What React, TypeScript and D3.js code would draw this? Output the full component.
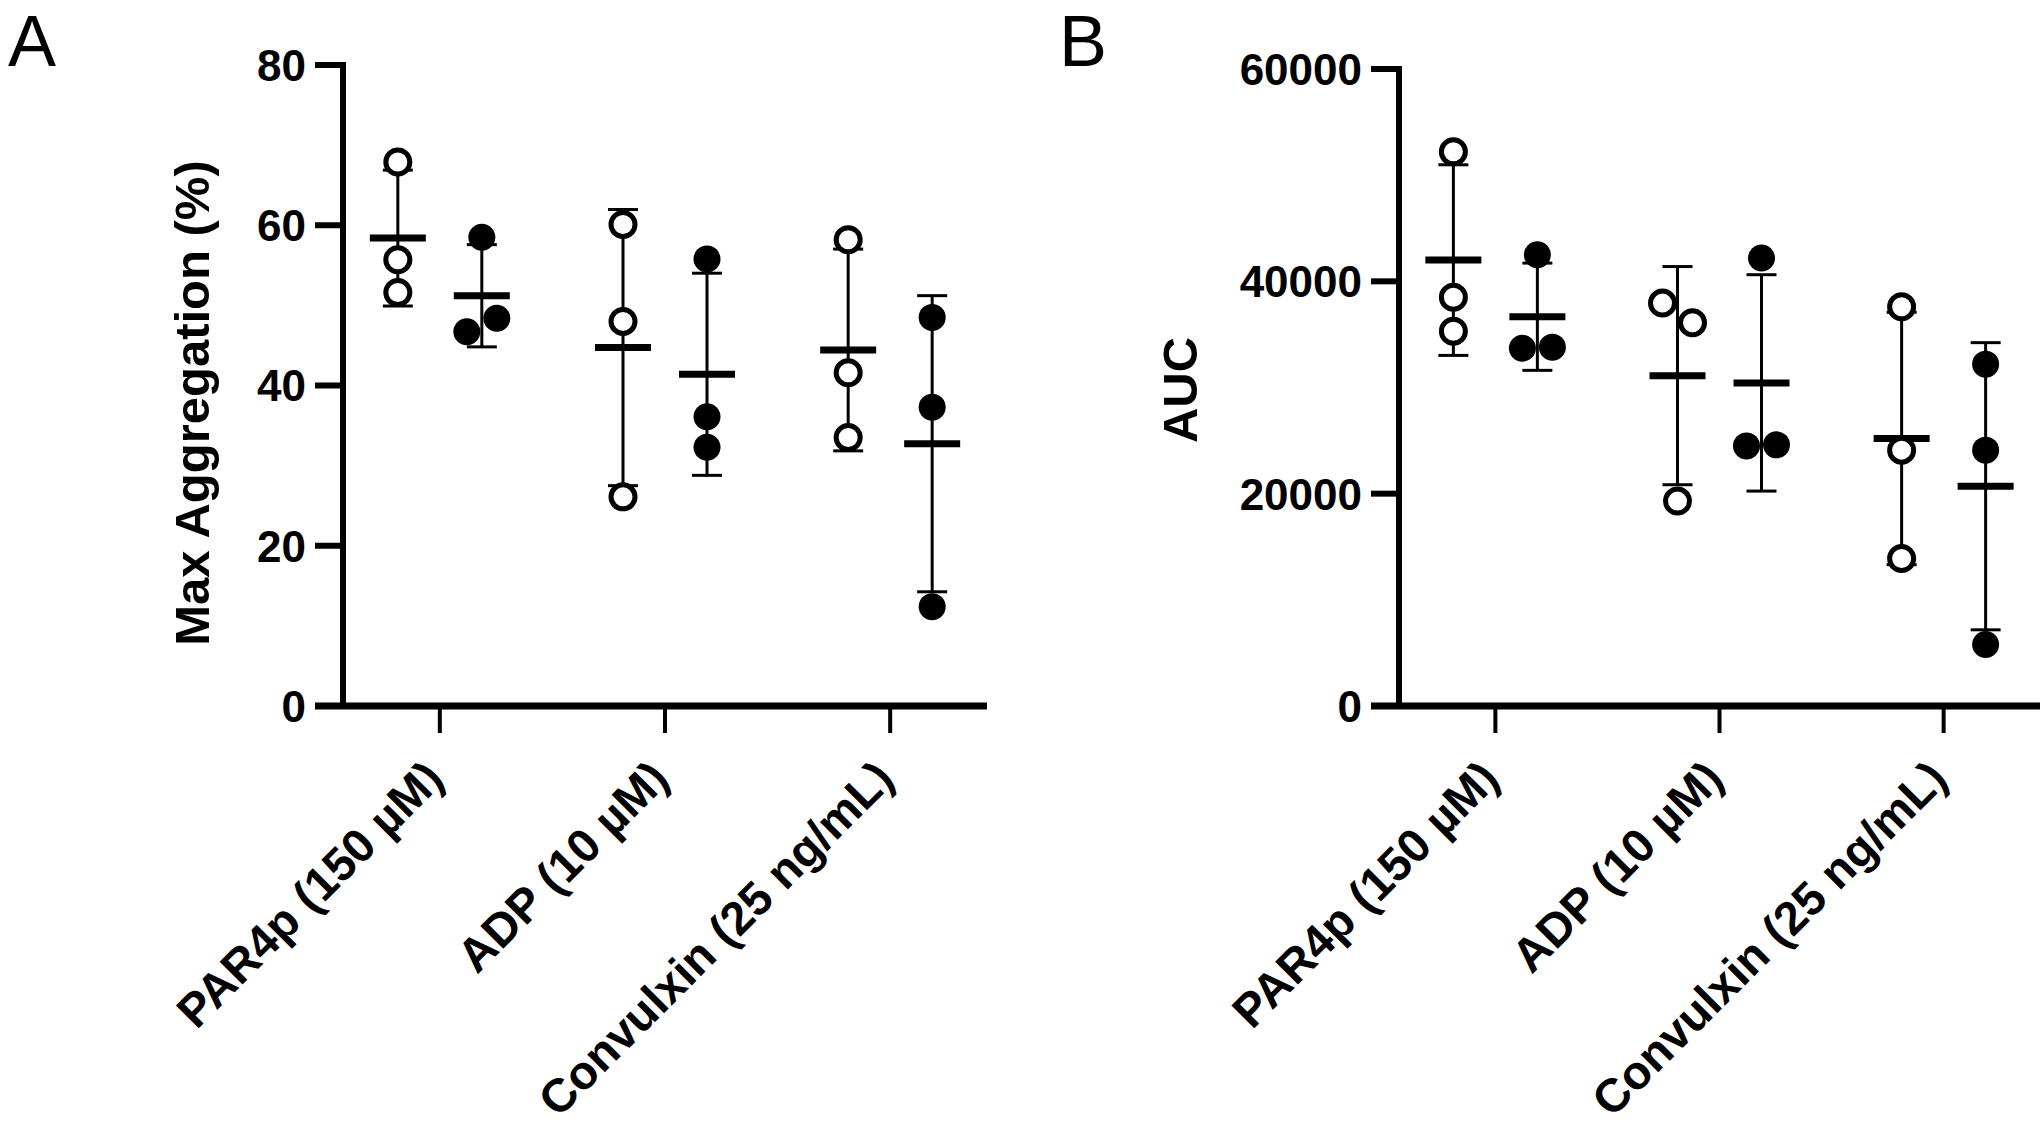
import React from "react";
import * as d3 from "d3";

const categories = ["PAR4p (150 µM)", "ADP (10 µM)", "Convulxin (25 ng/mL)"];

// Panel A: Max Aggregation (%)
const aggOpen = [
  [67.9, 55.7, 51.6],
  [60.1, 48.0, 26.1],
  [58.2, 41.6, 33.5],
];
const aggFilled = [
  [58.5, 46.7, 48.4],
  [55.8, 36.1, 32.3],
  [48.5, 37.3, 12.4],
];
const aggTicks = [0, 20, 40, 60, 80];

// Panel B: AUC
const aucOpen = [
  [52200, 38500, 35300],
  [37950, 36100, 19300],
  [37600, 24100, 13900],
];
const aucFilled = [
  [42500, 33700, 33800],
  [42200, 24500, 24600],
  [32200, 24100, 5800],
];
const aucTicks = [0, 20000, 40000, 60000];

const FONT = "'Liberation Sans', Arial, Helvetica, sans-serif";

type PanelProps = {
  letter: string;
  letterX: number;
  x0: number;
  x1: number;
  yTop: number;
  yBottom: number;
  maxV: number;
  ticks: number[];
  yLabel: string;
  yLabelX: number;
  yLabelY: number;
  open: number[][];
  filled: number[][];
};

const DIAM = 27;

function jitter(vals: number[], y: (v: number) => number): number[] {
  const off = vals.map(() => 0);
  const done = vals.map(() => false);
  for (let i = 0; i < vals.length; i++) {
    for (let j = i + 1; j < vals.length; j++) {
      if (!done[i] && !done[j] && Math.abs(y(vals[i]) - y(vals[j])) < DIAM) {
        off[i] = -15;
        off[j] = 15;
        done[i] = done[j] = true;
      }
    }
  }
  return off;
}

function Panel(p: PanelProps) {
  const y = d3.scaleLinear().domain([0, p.maxV]).range([p.yBottom, p.yTop]);
  const x = d3.scalePoint<string>().domain(categories).range([p.x0, p.x1]).padding(0.43);
  const seriesOffset = 42;

  const renderGroup = (vals: number[], cx: number, filled: boolean, key: string) => {
    const m = d3.mean(vals) as number;
    const sd = d3.deviation(vals) as number;
    const offs = jitter(vals, y);
    return (
      <g key={key}>
        <line x1={cx} x2={cx} y1={y(m - sd)} y2={y(m + sd)} stroke="#000" strokeWidth={3} />
        <line x1={cx - 15} x2={cx + 15} y1={y(m + sd)} y2={y(m + sd)} stroke="#000" strokeWidth={3} />
        <line x1={cx - 15} x2={cx + 15} y1={y(m - sd)} y2={y(m - sd)} stroke="#000" strokeWidth={3} />
        <line x1={cx - 28} x2={cx + 28} y1={y(m)} y2={y(m)} stroke="#000" strokeWidth={7} />
        {vals.map((v, i) => (
          <circle
            key={i}
            cx={cx + offs[i]}
            cy={y(v)}
            r={filled ? 13.5 : 12}
            fill={filled ? "#000" : "#fff"}
            stroke="#000"
            strokeWidth={filled ? 0 : 5}
          />
        ))}
      </g>
    );
  };

  return (
    <g fontFamily={FONT}>
      <text x={p.letterX} y={66} fontSize={72} fill="#000">
        {p.letter}
      </text>
      {/* y axis */}
      <line x1={p.x0} x2={p.x0} y1={p.yTop} y2={p.yBottom} stroke="#000" strokeWidth={6} strokeLinecap="square" />
      {p.ticks.map((t) => (
        <g key={t}>
          <line x1={p.x0 - 28} x2={p.x0} y1={y(t)} y2={y(t)} stroke="#000" strokeWidth={6} />
          <text
            x={p.x0 - 37}
            y={y(t)}
            dy="0.36em"
            textAnchor="end"
            fontSize={44}
            fontWeight="bold"
            fill="#000"
          >
            {t}
          </text>
        </g>
      ))}
      <text
        transform={`translate(${p.yLabelX},${p.yLabelY}) rotate(-90)`}
        textAnchor="middle"
        fontSize={49}
        fontWeight="bold"
        fill="#000"
      >
        {p.yLabel}
      </text>
      {/* x axis */}
      <line x1={p.x0 - 28} x2={p.x1} y1={p.yBottom} y2={p.yBottom} stroke="#000" strokeWidth={7} />
      {categories.map((c) => {
        const cx = x(c) as number;
        return (
          <g key={c}>
            <line x1={cx} x2={cx} y1={p.yBottom} y2={p.yBottom + 27} stroke="#000" strokeWidth={4} />
            <text
              transform={`translate(${cx + 6},${p.yBottom + 75}) rotate(-45)`}
              textAnchor="end"
              fontSize={47}
              fontWeight="bold"
              fill="#000"
            >
              {c}
            </text>
          </g>
        );
      })}
      {categories.map((c, gi) => {
        const cx = x(c) as number;
        return (
          <g key={"d" + c}>
            {renderGroup(p.open[gi], cx - seriesOffset, false, "o")}
            {renderGroup(p.filled[gi], cx + seriesOffset, true, "f")}
          </g>
        );
      })}
    </g>
  );
}

export default function App() {
  return (
    <svg
      width={2040}
      height={1134}
      viewBox="0 0 2040 1134"
      style={{ position: "absolute", left: 0, top: 0, background: "#fff" }}
    >
      <rect x={0} y={0} width={2040} height={1134} fill="#fff" />
      <Panel
        letter="A"
        letterX={8}
        x0={343}
        x1={987}
        yTop={65}
        yBottom={706}
        maxV={80}
        ticks={aggTicks}
        yLabel="Max Aggregation (%)"
        yLabelX={209}
        yLabelY={403}
        open={aggOpen}
        filled={aggFilled}
      />
      <Panel
        letter="B"
        letterX={1059}
        x0={1399}
        x1={2040}
        yTop={69}
        yBottom={706}
        maxV={60000}
        ticks={aucTicks}
        yLabel="AUC"
        yLabelX={1197}
        yLabelY={390}
        open={aucOpen}
        filled={aucFilled}
      />
    </svg>
  );
}
